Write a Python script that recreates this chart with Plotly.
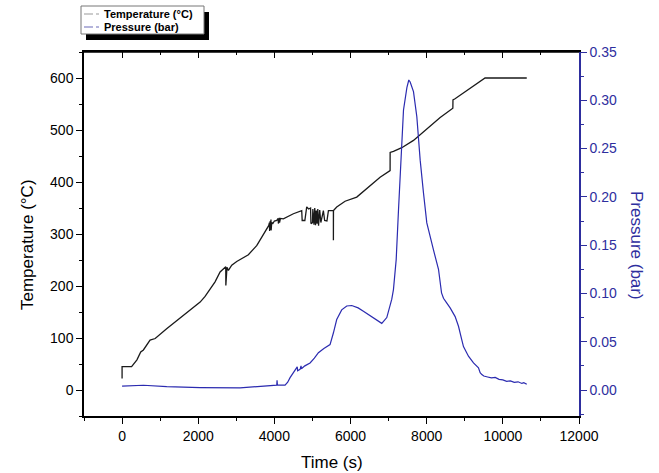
import plotly.graph_objects as go

# ---------------- data ----------------
time_temp = [0, 0, 250, 390, 490, 560, 735, 870, 1170, 1610, 1790, 2050, 2180, 2310, 2442,
             2574, 2661, 2723, 2725, 2735, 2745, 2755, 2792, 2880, 3011, 3143, 3317, 3540,
             3624, 3799, 3850, 3870, 3875, 3890, 3895, 3910, 3915, 3930, 3960, 4000, 4062,
             4100, 4105, 4130, 4135, 4160, 4236, 4499, 4718, 4730, 4800, 4849, 4900, 4950,
             4960, 5000, 5010, 5040, 5060, 5080, 5100, 5120, 5140, 5160, 5190, 5220, 5287,
             5320, 5380, 5419, 5506, 5550, 5550, 5552, 5637, 5856, 6163, 6426, 6776, 7039,
             7040, 7127, 7346, 7653, 8003, 8354, 8687, 8690, 8745, 9052, 9533, 10628]
temperature = [22, 45, 45, 58, 73, 77, 96, 99, 118, 144, 153, 169, 180, 193, 208,
               227, 233, 237, 201, 235, 205, 236, 230, 240, 247, 253, 260, 278,
               288, 310, 316, 322, 306, 325, 308, 328, 307, 322, 320, 325, 326,
               330, 320, 331, 322, 330, 329, 339, 345, 326, 326, 352, 348, 350,
               320, 322, 348, 318, 350, 317, 345, 320, 348, 316, 346, 322, 345,
               326, 325, 345, 345, 345, 288, 345, 352, 363, 371, 387, 409, 422,
               457, 459, 466, 480, 502, 524, 542, 558, 560, 575, 600, 600]

time_pres = [0, 560, 1173, 2048, 3099, 3799, 4062, 4070, 4080, 4281, 4350, 4412, 4543,
             4600, 4610, 4675, 4700, 4710, 4800, 4937, 5050, 5156, 5300, 5462, 5549,
             5637, 5768, 5900, 6031, 6200, 6338, 6601, 6820, 6952, 7083, 7127, 7199,
             7260, 7321, 7391, 7480, 7530, 7566, 7653, 7741, 7829, 7916, 8003, 8178,
             8310, 8390, 8441, 8529, 8616, 8747, 8835, 8922, 8966, 9097, 9229, 9360,
             9404, 9448, 9500, 9600, 9700, 9800, 9900, 10000, 10100, 10200, 10300,
             10400, 10500, 10550, 10628]
pressure = [0.004, 0.0049, 0.0035, 0.0025, 0.0022, 0.004, 0.005, 0.010, 0.005, 0.005,
            0.008, 0.0128, 0.0207, 0.024, 0.020, 0.0214, 0.025, 0.022, 0.025, 0.028,
            0.033, 0.0386, 0.043, 0.047, 0.059, 0.073, 0.083, 0.087, 0.0875, 0.085,
            0.0816, 0.0748, 0.069, 0.075, 0.094, 0.104, 0.135, 0.187, 0.238, 0.290,
            0.313, 0.321, 0.319, 0.309, 0.283, 0.238, 0.204, 0.173, 0.145, 0.125,
            0.1006, 0.095, 0.090, 0.085, 0.076, 0.066, 0.052, 0.045, 0.035, 0.028,
            0.023, 0.018, 0.016, 0.0145, 0.0135, 0.0125, 0.013, 0.011, 0.0105, 0.009,
            0.0095, 0.008, 0.0085, 0.0068, 0.0075, 0.0059]

legend_labels = ["Temperature (°C)", "Pressure (bar)"]
axis_titles = ["Time (s)", "Temperature (°C)", "Pressure (bar)"]

# ---------------- styling ----------------
W, H = 659, 473
L, R, T, B = 84, 579, 52, 416
BLUE = "#2e2e9e"
LINE_BLUE = "#2b2bb0"
FONT = "Liberation Sans, Arial, sans-serif"


def xp(px):
    return (px - L) / (R - L)


def yp(py):
    return (B - py) / (B - T)


fig = go.Figure()
fig.add_trace(go.Scatter(x=time_temp, y=temperature, mode="lines",
                         line=dict(color="#1a1a1a", width=1.3),
                         name=legend_labels[0], showlegend=False, xaxis="x", yaxis="y"))
fig.add_trace(go.Scatter(x=time_pres, y=pressure, mode="lines",
                         line=dict(color=LINE_BLUE, width=1.2),
                         name=legend_labels[1], showlegend=False, xaxis="x2", yaxis="y2"))
# transparent copy that carries the top minor-tick axis
fig.add_trace(go.Scatter(x=time_temp, y=temperature, mode="lines",
                         line=dict(color="rgba(0,0,0,0)", width=0.5),
                         showlegend=False, hoverinfo="skip", xaxis="x3", yaxis="y"))

tickfont = dict(family=FONT, size=14, color="black")
xr = [-1000, 12000]

fig.update_layout(
    width=W, height=H,
    margin=dict(l=L, r=W - R, t=T, b=H - B, pad=0),
    paper_bgcolor="white", plot_bgcolor="white",
    showlegend=False,
    font=dict(family=FONT),
    xaxis=dict(range=xr, tick0=0, dtick=2000, tickformat="d",
               showgrid=False, zeroline=False,
               showline=True, linecolor="black", linewidth=1.5,
               ticks="outside", ticklen=6, tickwidth=1.2, tickcolor="black",
               minor=dict(ticks="outside", ticklen=3, dtick=1000, tick0=0, tickcolor="black"),
               tickfont=tickfont),
    # top axis: same scale, major ticks pointing into the plot
    xaxis2=dict(range=xr, overlaying="x", side="top", anchor="y2",
                tick0=0, dtick=2000, showgrid=False, zeroline=False, showticklabels=False,
                showline=True, linecolor="black", linewidth=1.5,
                ticks="inside", ticklen=6, tickwidth=1.2, tickcolor="black"),
    # top axis: minor ticks
    xaxis3=dict(range=xr, overlaying="x", side="top", anchor="y",
                tick0=0, dtick=1000, showgrid=False, zeroline=False, showticklabels=False,
                showline=True, linecolor="black", linewidth=1.5,
                ticks="inside", ticklen=3, tickwidth=1.2, tickcolor="black"),
    yaxis=dict(range=[-50, 650], tick0=0, dtick=100, showgrid=False, zeroline=False,
               showline=True, linecolor="black", linewidth=1.5,
               ticks="outside", ticklen=6, tickwidth=1.2, tickcolor="black",
               minor=dict(ticks="outside", ticklen=3, dtick=50, tick0=0, tickcolor="black"),
               tickfont=tickfont),
    yaxis2=dict(range=[-0.35 / 13, 0.35], tick0=0, dtick=0.05, tickformat=".2f",
                overlaying="y", side="right", anchor="x2",
                showgrid=False, zeroline=False,
                showline=True, linecolor=BLUE, linewidth=1.5,
                ticks="outside", ticklen=6, tickwidth=1.2, tickcolor=BLUE,
                minor=dict(ticks="outside", ticklen=3, dtick=0.025, tick0=0, tickcolor=BLUE),
                tickfont=dict(family=FONT, size=14, color=BLUE)),
)

# top frame line (safety in case the top axis line is not drawn)
fig.add_shape(type="line", xref="paper", yref="paper", x0=0, x1=1, y0=1, y1=1,
              line=dict(color="black", width=1.5), layer="above")

# axis titles
fig.add_annotation(text=axis_titles[0], xref="paper", yref="paper",
                   x=xp(331.5), y=yp(462), showarrow=False,
                   font=dict(family=FONT, size=17, color="black"),
                   xanchor="center", yanchor="middle")
fig.add_annotation(text=axis_titles[1], xref="paper", yref="paper",
                   x=xp(27), y=yp(245), showarrow=False, textangle=-90,
                   font=dict(family=FONT, size=17, color="black"),
                   xanchor="center", yanchor="middle")
fig.add_annotation(text=axis_titles[2], xref="paper", yref="paper",
                   x=xp(637), y=yp(245), showarrow=False, textangle=90,
                   font=dict(family=FONT, size=17, color=BLUE),
                   xanchor="center", yanchor="middle")

# legend box with drop shadow
box = (81, 6, 204, 34)
fig.add_shape(type="rect", xref="paper", yref="paper",
              x0=xp(box[0] + 5), x1=xp(box[2] + 5), y0=yp(box[1] + 6), y1=yp(box[3] + 6),
              fillcolor="black", line=dict(width=0), layer="above")
fig.add_shape(type="rect", xref="paper", yref="paper",
              x0=xp(box[0]), x1=xp(box[2]), y0=yp(box[1]), y1=yp(box[3]),
              fillcolor="white", line=dict(color="#777777", width=1), layer="above")
rows = [(14, "#9a9a9a"), (27, "#6a6ab8")]
for (ry, col), label in zip(rows, legend_labels):
    fig.add_shape(type="line", xref="paper", yref="paper",
                  x0=xp(84), x1=xp(100), y0=yp(ry), y1=yp(ry),
                  line=dict(color=col, width=1.2, dash="dashdot"), layer="above")
    fig.add_annotation(text=label, xref="paper", yref="paper", x=xp(102), y=yp(ry),
                       xanchor="left", yanchor="middle", showarrow=False,
                       font=dict(family=FONT, size=11, color="black", weight="bold"))

fig.write_html("out.html")
